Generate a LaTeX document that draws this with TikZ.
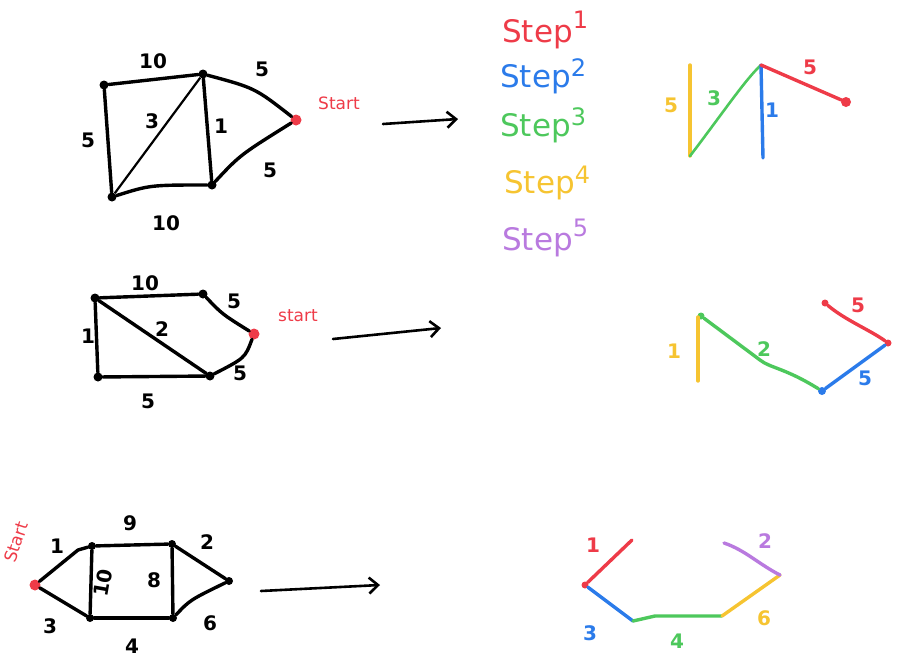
\documentclass[tikz,border=0pt]{standalone}
\usepackage{fontspec}
\setmainfont{DejaVu Sans}
\usetikzlibrary{arrows.meta}
\definecolor{cred}{HTML}{EE3B48}
\definecolor{cblue}{HTML}{2B7BEA}
\definecolor{cgreen}{HTML}{4DC85C}
\definecolor{cyel}{HTML}{F6C431}
\definecolor{cpurp}{HTML}{B97ADF}
\begin{document}
\begin{tikzpicture}[x=1pt,y=-1pt,
  vtx/.style={circle,fill=black,inner sep=0pt,minimum size=9pt},
  svtx/.style={circle,fill=cred,inner sep=0pt,minimum size=11pt},
  edge/.style={line width=3.4pt,line cap=round,line join=round},
  cedge/.style={line width=3.4pt,line cap=round,line join=round},
  lab/.style={font=\bfseries\fontsize{20}{22}\selectfont,inner sep=0pt},
  steplab/.style={font=\fontsize{31}{34}\selectfont,anchor=west,inner sep=0pt},
  arr/.style={line width=2.6pt,line cap=round,-{Straight Barb[length=9pt,width=16pt,line width=2.6pt]}},
  startlab/.style={text=cred,font=\fontsize{17}{19}\selectfont,inner sep=0pt}]
\useasboundingbox (0,0) rectangle (898,667);

% ---------- Graph 1 ----------
\node[vtx] (a1) at (104,85) {};
\node[vtx] (b1) at (203,74) {};
\node[vtx] (c1) at (112,197) {};
\node[vtx] (d1) at (212,185) {};
\node[svtx] (s1) at (296,120) {};
\draw[edge] (a1) -- (b1);
\draw[edge] (a1) -- (c1);
\draw[line width=2.2pt] (c1) -- (b1);
\draw[edge] (b1) -- (d1);
\draw[edge] (c1) .. controls (150,185) .. (d1);
\draw[edge] (b1) .. controls (255,88) .. (s1);
\draw[edge] (d1) .. controls (240,155) .. (s1);
\node[lab] (l1a) at (153,61) {10};
\node[lab] (l1b) at (88,140) {5};
\node[lab] (l1c) at (152,121) {3};
\node[lab] (l1d) at (221,126) {1};
\node[lab] (l1e) at (166,223) {10};
\node[lab] (l1f) at (262,69) {5};
\node[lab] (l1g) at (270,170) {5};
\node[startlab] (st1) at (339,103) {Start};
\coordinate (ar1a) at (383,124);
\coordinate (ar1b) at (458,119);
\draw[arr] (ar1a) -- (ar1b);

% ---------- Step legend ----------
\node[steplab,text=cred] (sp1) at (502,30) {Step\raisebox{0.45em}{\fontsize{24}{26}\selectfont 1}};
\node[steplab,text=cblue] (sp2) at (500,76) {Step\raisebox{0.35em}{\fontsize{24}{26}\selectfont 2}};
\node[steplab,text=cgreen] (sp3) at (500,125) {Step\raisebox{0.35em}{\fontsize{24}{26}\selectfont 3}};
\node[steplab,text=cyel] (sp4) at (504,183) {Step\raisebox{0.35em}{\fontsize{24}{26}\selectfont 4}};
\node[steplab,text=cpurp] (sp5) at (502,238) {Step\raisebox{0.45em}{\fontsize{24}{26}\selectfont 5}};

% ---------- Result 1 ----------
\coordinate (r1a) at (690,65);
\coordinate (r1b) at (690,156);
\coordinate (r1c) at (761,65);
\coordinate (r1d) at (763,158);
\node[svtx,minimum size=10pt] (r1s) at (846,102) {};
\draw[cedge,cyel] (r1a) -- (r1b);
\draw[cedge,cgreen,line width=2.6pt] (r1b) .. controls (725,110) and (745,80) .. (r1c);
\draw[cedge,cblue] (r1c) -- (r1d);
\draw[cedge,cred] (r1c) -- (r1s);
\node[lab,text=cyel] (q1a) at (671,105) {5};
\node[lab,text=cgreen] (q1b) at (714,98) {3};
\node[lab,text=cblue] (q1c) at (772,110) {1};
\node[lab,text=cred] (q1d) at (810,67) {5};

% ---------- Graph 2 ----------
\node[vtx] (a2) at (95,298) {};
\node[vtx] (b2) at (203,294) {};
\node[vtx] (c2) at (98,377) {};
\node[vtx] (d2) at (210,376) {};
\node[svtx] (s2) at (254,334) {};
\draw[edge] (a2) -- (b2);
\draw[edge] (a2) -- (c2);
\draw[edge] (a2) -- (d2);
\draw[edge] (c2) -- (d2);
\draw[edge] (b2) .. controls (222,314) .. (s2);
\draw[edge] (d2) .. controls (245,358) .. (s2);
\node[lab] (l2a) at (145,283) {10};
\node[lab] (l2b) at (88,336) {1};
\node[lab] (l2c) at (162,329) {2};
\node[lab] (l2d) at (148,401) {5};
\node[lab] (l2e) at (234,301) {5};
\node[lab] (l2f) at (240,373) {5};
\node[startlab] (st2) at (298,316) {start};
\coordinate (ar2a) at (333,339);
\coordinate (ar2b) at (441,328);
\draw[arr] (ar2a) -- (ar2b);

% ---------- Result 2 ----------
\coordinate (r2a) at (698,317);
\coordinate (r2b) at (698,381);
\node[circle,fill=cgreen,inner sep=0pt,minimum size=7pt] (r2c) at (701,316) {};
\node[circle,fill=cblue,inner sep=0pt,minimum size=8pt] (r2d) at (822,391) {};
\node[circle,fill=cred,inner sep=0pt,minimum size=7pt] (r2e) at (888,343) {};
\node[circle,fill=cred,inner sep=0pt,minimum size=7pt] (r2f) at (825,303) {};
\draw[cedge,cyel] (r2a) -- (r2b);
\draw[cedge,cgreen] (r2c) -- (760,360) .. controls (770,368) and (785,368) .. (r2d);
\draw[cedge,cblue] (r2d) -- (r2e);
\draw[cedge,cred] (r2f) .. controls (845,320) and (870,330) .. (r2e);
\node[lab,text=cyel] (q2a) at (674,351) {1};
\node[lab,text=cgreen] (q2b) at (764,349) {2};
\node[lab,text=cblue] (q2c) at (865,378) {5};
\node[lab,text=cred] (q2d) at (858,305) {5};

% ---------- Graph 3 ----------
\node[svtx] (s3) at (35,585) {};
\node[vtx,minimum size=8pt] (a3) at (92,546) {};
\node[vtx,minimum size=8pt] (b3) at (172,544) {};
\node[vtx,minimum size=8pt] (c3) at (90,618) {};
\node[vtx,minimum size=8pt] (d3) at (173,618) {};
\node[vtx,minimum size=8pt] (e3) at (229,581) {};
\draw[edge] (s3) -- (78,550) -- (a3);
\draw[edge] (s3) -- (c3);
\draw[edge] (a3) -- (b3);
\draw[edge] (a3) -- (c3);
\draw[edge] (b3) -- (d3);
\draw[edge] (c3) -- (d3);
\draw[edge] (b3) -- (e3);
\draw[edge] (d3) .. controls (190,600) .. (e3);
\node[lab] (l3a) at (57,546) {1};
\node[lab] (l3b) at (50,626) {3};
\node[lab] (l3c) at (130,523) {9};
\node[lab,rotate=80] (l3d) at (103,583) {10};
\node[lab] (l3e) at (154,580) {8};
\node[lab] (l3f) at (132,646) {4};
\node[lab] (l3g) at (207,542) {2};
\node[lab] (l3h) at (210,623) {6};
\node[startlab,rotate=72] (st3) at (16,542) {Start};
\coordinate (ar3a) at (261,591);
\coordinate (ar3b) at (380,585);
\draw[arr] (ar3a) -- (ar3b);

% ---------- Result 3 ----------
\node[circle,fill=cred,inner sep=0pt,minimum size=7pt] (r3s) at (585,585) {};
\coordinate (r3a) at (632,540);
\coordinate (r3b) at (633,621);
\coordinate (r3c) at (722,616);
\coordinate (r3d) at (780,575);
\coordinate (r3e) at (724,543);
\draw[cedge,cred] (r3s) -- (r3a);
\draw[cedge,cblue] (r3s) -- (r3b);
\draw[cedge,cgreen] (r3b) -- (655,616) -- (r3c);
\draw[cedge,cyel] (r3c) -- (r3d);
\draw[cedge,cpurp] (r3e) .. controls (745,550) and (760,565) .. (r3d);
\node[lab,text=cred] (q3a) at (593,545) {1};
\node[lab,text=cblue] (q3b) at (590,633) {3};
\node[lab,text=cgreen] (q3c) at (677,641) {4};
\node[lab,text=cyel] (q3d) at (764,618) {6};
\node[lab,text=cpurp] (q3e) at (765,541) {2};
\end{tikzpicture}
\end{document}
